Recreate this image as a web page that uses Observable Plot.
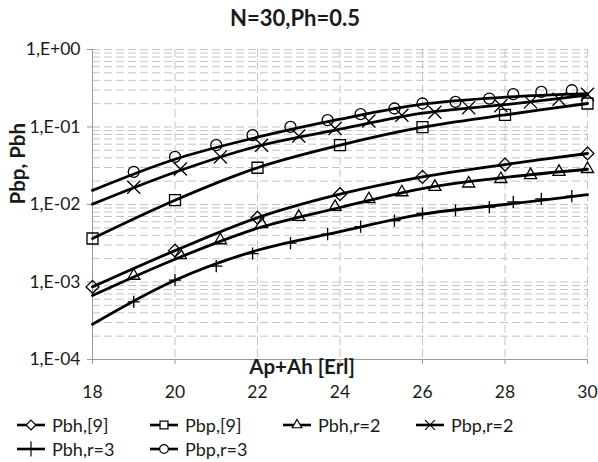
<!DOCTYPE html>
<html><head><meta charset="utf-8">
<script src="https://cdn.jsdelivr.net/npm/d3@7"></script>
<script src="https://cdn.jsdelivr.net/npm/@observablehq/plot@0.6"></script>
<style>
body{margin:0;background:#fff;font-family:Lato,"Open Sans",sans-serif;color:#1a1a1a;position:relative;width:598px;height:462px;overflow:hidden}
#title{position:absolute;top:0;left:0;width:590px;text-align:center;font-weight:bold;font-size:22px;line-height:36px}
#legend{padding-top:5px}
.row{display:flex;height:24px;line-height:24px;font-size:18px}
.item{width:133px;display:flex;align-items:center;white-space:nowrap}
.item svg{display:block}
</style></head><body>
<div id="chart"></div>
<div id="title">N=30,Ph=0.5</div>
<div id="legend"></div>
<script>
// ---- axis ticks ----
const xTicks = [18, 20, 22, 24, 26, 28, 30];
const yTicks = [1, 0.1, 0.01, 0.001, 0.0001];
const yTickLabels = ["1,E+00", "1,E-01", "1,E-02", "1,E-03", "1,E-04"];

// ---- series ----
const seriesNames = ["Pbh,[9]", "Pbp,[9]", "Pbh,r=2", "Pbp,r=2", "Pbh,r=3", "Pbp,r=3"];
const seriesSymbols = ["diamond2", "square2", "triangle2", "times", "plus", "circle"];

// curves, sampled every 2 Erl
const lineX = [18, 20, 22, 24, 26, 28, 30];
const linePbh9  = [0.000865, 0.00254, 0.00676, 0.01358, 0.0227, 0.0328, 0.0455];
const linePbp9  = [0.00364, 0.01136, 0.0298, 0.0582, 0.0994, 0.1432, 0.201];
const linePbhR2 = [0.00067, 0.00197, 0.00494, 0.00915, 0.01608, 0.0223, 0.0285];
const linePbpR2 = [0.0101, 0.0261, 0.0565, 0.0937, 0.1507, 0.194, 0.257];
const linePbhR3 = [0.000285, 0.001055, 0.00257, 0.00446, 0.0075, 0.0100, 0.01337];
const linePbpR3 = [0.0152, 0.0384, 0.0738, 0.126, 0.197, 0.2425, 0.269];

// markers
const markX9    = [18, 20, 22, 24, 26, 28, 30];
const markPbh9  = [0.000865, 0.00254, 0.00676, 0.01358, 0.0227, 0.0328, 0.0455];
const markPbp9  = [0.00364, 0.01136, 0.0298, 0.0582, 0.0994, 0.1432, 0.201];
const markXr2   = [19, 20.13, 21.1, 22.1, 23, 23.88, 24.7, 25.5, 26.3, 27.12, 27.9, 28.62, 29.31, 30];
const markPbhR2 = [0.001205, 0.00222, 0.00346, 0.00557, 0.00692, 0.0093, 0.0117, 0.0144, 0.01687, 0.01866, 0.02134, 0.0239, 0.02634, 0.0287];
const markPbpR2 = [0.0167, 0.0287, 0.0411, 0.0582, 0.0766, 0.0957, 0.1195, 0.142, 0.155, 0.1775, 0.188, 0.211, 0.2285, 0.265];
const markXr3   = [19, 20, 21, 21.88, 22.8, 23.7, 24.5, 25.32, 26.0, 26.8, 27.62, 28.2, 28.88, 29.62];
const markPbhR3 = [0.000554, 0.001055, 0.0016, 0.00233, 0.00317, 0.00414, 0.00518, 0.00618, 0.00766, 0.00844, 0.00923, 0.0108, 0.0118, 0.0128];
const markPbpR3 = [0.0264, 0.0411, 0.0582, 0.0784, 0.1003, 0.1224, 0.1463, 0.1733, 0.2011, 0.211, 0.233, 0.265, 0.284, 0.298];

const lineSeries = [linePbh9, linePbp9, linePbhR2, linePbpR2, linePbhR3, linePbpR3];
const markSeries = [
  [markX9, markPbh9], [markX9, markPbp9], [markXr2, markPbhR2],
  [markXr2, markPbpR2], [markXr3, markPbhR3], [markXr3, markPbpR3]
];
const symbolR = {diamond2: 5.8, square2: 7, triangle2: 5.8, times: 6, plus: 4, circle: 5.5};

// grid values (log minor grid)
const gridY = [];
for (let e = -4; e < 0; e++) for (let m = 1; m < 10; m++) if (!(e === -4 && m === 1)) gridY.push(m * Math.pow(10, e));
gridY.push(1);

const INK = "#1a1a1a";
const FONT = 'Lato,"Open Sans",sans-serif';
const marks = [
  Plot.ruleY(gridY, {stroke: "#c4c4c4", strokeDasharray: "8,4", strokeWidth: 1}),
  Plot.ruleX(xTicks.slice(1), {stroke: "#c4c4c4", strokeDasharray: "8,4", strokeWidth: 1}),
  Plot.ruleX([xTicks[0]], {stroke: "#9a9a9a", strokeWidth: 1}),
  Plot.ruleY([yTicks[yTicks.length - 1]], {stroke: "#9a9a9a", strokeWidth: 1}),
  Plot.axisX({ticks: xTicks, tickSize: 5, tickPadding: 21, stroke: "#9a9a9a", fill: INK, fontSize: 17.5, label: null, tickFormat: d => String(d)}),
  Plot.axisY({ticks: yTicks, tickSize: 5, tickPadding: 7, stroke: "#9a9a9a", fill: INK, fontSize: 17.5, label: null,
    tickFormat: d => yTickLabels[yTicks.findIndex(t => Math.abs(t - d) / t < 1e-9)]}),
  Plot.text(["Pbp, Pbh"], {frameAnchor: "left", rotate: -90, dx: -74, fontWeight: "bold", fontSize: 20.5, fill: INK}),
  Plot.text(["Ap+Ah [Erl]"], {frameAnchor: "bottom", dy: 14, dx: -38, fontWeight: "bold", fontSize: 20.5, fill: INK})
];
lineSeries.forEach(ys => {
  marks.push(Plot.line(lineX.map((x, i) => ({x, y: ys[i]})), {x: "x", y: "y", curve: "catmull-rom", stroke: "#000", strokeWidth: 2.8}));
});
markSeries.forEach(([xs, ys], k) => {
  const sym = seriesSymbols[k];
  marks.push(Plot.dot(xs.map((x, i) => ({x, y: ys[i]})), {x: "x", y: "y", symbol: sym, r: symbolR[sym], stroke: "#000", fill: "none", strokeWidth: 1.3}));
});

const chart = Plot.plot({
  width: 598, height: 408,
  marginLeft: 92, marginRight: 11, marginTop: 49, marginBottom: 49,
  style: {fontFamily: FONT, color: INK, background: "#fff"},
  x: {domain: [18, 30], axis: null},
  y: {type: "log", domain: [1e-4, 1], axis: null},
  marks
});
document.getElementById("chart").appendChild(chart);

// legend
const symbolMap = {diamond2: d3.symbolDiamond2, square2: d3.symbolSquare2, triangle2: d3.symbolTriangle2, times: d3.symbolTimes, plus: d3.symbolPlus, circle: d3.symbolCircle};
const legendSize = {diamond2: 60, square2: 80, triangle2: 65, times: 65, plus: 75, circle: 60};
const legend = document.getElementById("legend");
const rows = [[0, 1, 2, 3], [4, 5]];
rows.forEach(r => {
  const row = document.createElement("div");
  row.className = "row";
  row.style.paddingLeft = "16px";
  r.forEach(k => {
    const sym = seriesSymbols[k];
    const item = document.createElement("div");
    item.className = "item";
    const path = d3.symbol(symbolMap[sym], legendSize[sym])();
    item.innerHTML = `<svg width="36" height="24"><line x1="1" x2="29" y1="12" y2="12" stroke="#000" stroke-width="2.6"/><path d="${path}" transform="translate(15,12)" fill="#fff" stroke="#000" stroke-width="1.2"/></svg><span>${seriesNames[k]}</span>`;
    row.appendChild(item);
  });
  legend.appendChild(row);
});
</script>
</body></html>
